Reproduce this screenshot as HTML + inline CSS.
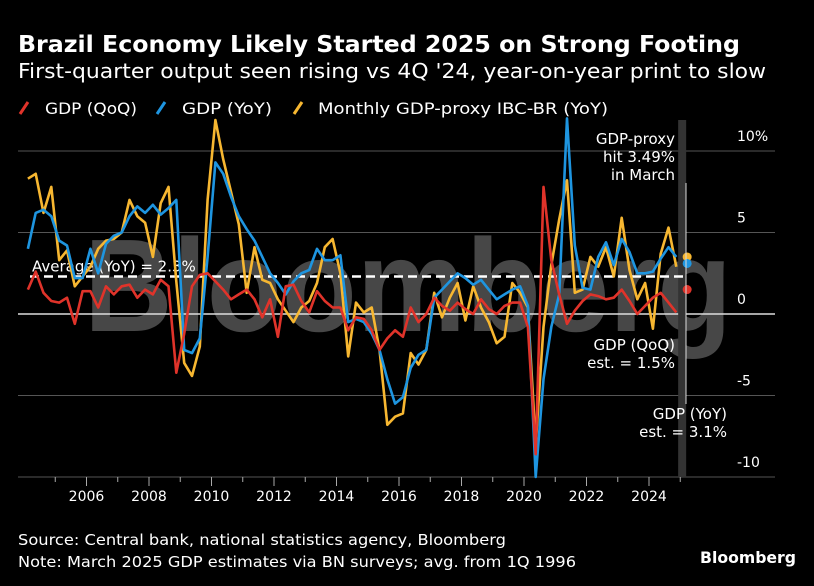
<!DOCTYPE html>
<html><head><meta charset="utf-8"><style>
html,body{margin:0;padding:0;background:#000;}
svg{display:block;font-family:"DejaVu Sans","Liberation Sans",sans-serif;}
</style></head><body>
<svg id="chart" width="814" height="586" viewBox="0 0 814 586" xmlns="http://www.w3.org/2000/svg">
<rect width="814" height="586" fill="#000"/>
<text x="18" y="52" fill="#fff" font-size="23" font-weight="bold" textLength="722" lengthAdjust="spacingAndGlyphs">Brazil Economy Likely Started 2025 on Strong Footing</text>
<text x="18" y="78" fill="#fff" font-size="20" textLength="748" lengthAdjust="spacingAndGlyphs">First-quarter output seen rising vs 4Q '24, year-on-year print to slow</text>
<g font-size="16" fill="#fff">
<line x1="20" y1="114" x2="28" y2="102" stroke="#e0332a" stroke-width="3"/>
<text x="45" y="114" textLength="92" lengthAdjust="spacingAndGlyphs">GDP (QoQ)</text>
<line x1="157" y1="114" x2="165" y2="102" stroke="#1e95e0" stroke-width="3"/>
<text x="182" y="114" textLength="90" lengthAdjust="spacingAndGlyphs">GDP (YoY)</text>
<line x1="294" y1="114" x2="302" y2="102" stroke="#f7b731" stroke-width="3"/>
<text x="318" y="114" textLength="290" lengthAdjust="spacingAndGlyphs">Monthly GDP-proxy IBC-BR (YoY)</text>
</g>
<g id="plot"></g>
<text x="18" y="545" fill="#fff" font-size="15" textLength="488" lengthAdjust="spacingAndGlyphs">Source: Central bank, national statistics agency, Bloomberg</text>
<text x="18" y="567" fill="#fff" font-size="15" textLength="558" lengthAdjust="spacingAndGlyphs">Note: March 2025 GDP estimates via BN surveys; avg. from 1Q 1996</text>
<text x="796" y="563" fill="#fff" font-size="16" font-weight="bold" text-anchor="end" textLength="96" lengthAdjust="spacingAndGlyphs">Bloomberg</text>
</svg>
<script>
const startYear = 2004;
const yTicks = [10, 5, 0, -5, -10];
const yTickLabels = ["10%", "5", "0", "-5", "-10"];
const xTickYears = [2006, 2008, 2010, 2012, 2014, 2016, 2018, 2020, 2022, 2024];
const gdpQoQ = [1.5,2.6,1.3,0.8, 0.7,1.0,-0.6,1.4, 1.4,0.4,1.7,1.2, 1.7,1.8,1.0,1.5, 1.2,2.1,1.7,-3.6,
 -1.2,1.7,2.4,2.5, 2.0,1.5,0.9,1.2, 1.5,0.9,-0.2,0.9, -1.4,1.7,1.8,0.8, 0.1,1.4,0.8,0.4,
 0.4,-1.0,-0.2,-0.3, -1.0,-2.2,-1.5,-1.0, -1.4,0.4,-0.5,0.0, 1.0,0.5,0.2,0.7, 0.3,0.0,0.9,0.3,
 0.0,0.5,0.7,0.7, -0.8,-8.6,7.8,3.3, 1.2,-0.6,0.2,0.8, 1.2,1.1,0.9,1.0, 1.5,0.8,0.0,0.5,
 1.0,1.3,0.7,0.1, 1.5];
const gdpYoY = [4.0,6.2,6.4,6.0, 4.5,4.2,2.2,2.2, 4.0,2.5,4.3,4.8, 5.0,6.0,6.6,6.2, 6.7,6.1,6.5,7.0,
 -2.2,-2.4,-1.5,3.5, 9.3,8.6,7.2,6.0, 5.2,4.5,3.5,2.5, 1.9,1.2,2.0,2.5, 2.7,4.0,3.3,3.3,
 3.6,-0.5,-0.3,-0.5, -1.2,-2.2,-4.0,-5.5, -5.1,-3.3,-2.5,-2.2, 1.0,1.5,2.0,2.5, 2.2,1.8,2.1,1.5,
 0.9,1.2,1.5,1.7, 0.5,-10,-4.0,-0.8, 1.2,12.0,4.2,1.6, 1.5,3.5,4.4,3.0, 4.6,3.8,2.5,2.5,
 2.6,3.4,4.1,3.5, 3.1];
const ibcBr = [8.3,8.6,6.2,7.8, 3.3,3.9,1.7,2.3, 2.9,4.0,4.5,4.6, 5.0,7.0,6.0,5.6, 3.5,6.8,7.8,2.0,
 -3.0,-3.8,-2.0,7.0, 11.9,9.5,7.5,5.5, 1.3,4.1,2.1,1.9, 0.9,0.2,-0.5,0.4, 0.8,1.9,4.1,4.6,
 2.5,-2.6,0.7,0.1, 0.4,-2.2,-6.8,-6.3, -6.1,-2.4,-3.1,-2.2, 1.3,-0.2,1.0,1.9, -0.4,1.7,0.4,-0.5,
 -1.8,-1.4,1.9,1.3, 0.4,-8.0,-0.8,3.0, 5.8,8.2,1.3,1.5, 3.5,2.9,4.1,2.3, 5.9,2.7,0.9,1.9,
 -0.9,3.7,5.3,2.9, 3.5];
const averageYoY = 2.3;

const NS = "http://www.w3.org/2000/svg";
const plot = document.getElementById("plot");
const X0 = 24, PX_YEAR = 31.25, Y0 = 314, PX_UNIT = 16.3;
function xYear(t){ return X0 + (t - startYear) * PX_YEAR; }
function xQ(i){ return xYear(startYear + i / 4 + 0.125); }
function yV(v){ return Y0 - v * PX_UNIT; }
function mk(tag, attrs){ const e = document.createElementNS(NS, tag); for (const k in attrs) e.setAttribute(k, attrs[k]); plot.appendChild(e); return e; }

// watermark
let wm = mk("text", {x: 84, y: 331, fill: "#fff", "fill-opacity": "0.28", "font-size": "132", "font-weight": "bold", "font-family": "Liberation Sans, sans-serif", textLength: 648, lengthAdjust: "spacingAndGlyphs"});


wm.textContent = "Bloomberg";

// gridlines & y labels
yTicks.forEach((v, k) => {
  const g = mk("line", {x1: 18, x2: 775, y1: yV(v), y2: yV(v), stroke: v === 0 ? "#ddd" : "#555", "stroke-width": v === 0 ? 1.5 : 1});
  
  
  const t = mk("text", {x: 737, y: yV(v) - 10, fill: "#fff", "font-size": "14"});
  
  
  t.textContent = yTickLabels[k];
});

// estimate band
let band = mk("rect", {x: xQ(gdpYoY.length - 1) - 6, y: 120, width: 8, height: 357, fill: "#333"});



// x axis ticks
for (let yr = startYear + 1; yr <= 2025; yr++) {
  const major = xTickYears.includes(yr);
  const tk = mk("line", {x1: xYear(yr), x2: xYear(yr), y1: 477, y2: major ? 486 : 482, stroke: "#aaa", "stroke-width": 1});
  
  
}
xTickYears.forEach(yr => {
  const t = mk("text", {x: xYear(yr), y: 501, fill: "#fff", "font-size": "14", "text-anchor": "middle"});
  
  
  t.textContent = yr;
});

// average line
let avg = mk("line", {x1: 30, x2: xQ(gdpYoY.length - 1) + 2, y1: yV(averageYoY), y2: yV(averageYoY), stroke: "#fff", "stroke-width": 2.5, "stroke-dasharray": "9 5"});


let avgT = mk("text", {x: 32, y: yV(averageYoY) - 5, fill: "#fff", "font-size": "15"});


avgT.textContent = "Average (YoY) = " + averageYoY + "%";

function series(arr, color, name){
  const pts = arr.slice(0, arr.length - 1).map((v, i) => xQ(i).toFixed(1) + "," + yV(v).toFixed(1)).join(" ");
  const p = mk("polyline", {points: pts, fill: "none", stroke: color, "stroke-width": 2.6, "stroke-linejoin": "round"});
  
  
  const last = arr.length - 1;
  const d = mk("circle", {cx: xQ(last) + 3, cy: yV(arr[last]), r: 4.5, fill: color});
  
  
}
series(ibcBr, "#f7b731", "ibc-br");
series(gdpYoY, "#1e95e0", "gdp-yoy");
series(gdpQoQ, "#e0332a", "gdp-qoq");

// annotation line
let al = mk("line", {x1: 686, x2: 686, y1: 183, y2: 404, stroke: "#ddd", "stroke-width": 1});



function note(lines, x, y0, name){
  lines.forEach((s, k) => {
    const t = mk("text", {x: x, y: y0 + k * 18, fill: "#fff", "font-size": "15", "text-anchor": "end"});
    
    
    t.textContent = s;
  });
}
note(["GDP-proxy", "hit 3.49%", "in March"], 675, 144, "proxy-annotation");
note(["GDP (QoQ)", "est. = 1.5%"], 675, 350, "qoq-annotation");
note(["GDP (YoY)", "est. = 3.1%"], 727, 419, "yoy-annotation");
</script>
</body></html>
